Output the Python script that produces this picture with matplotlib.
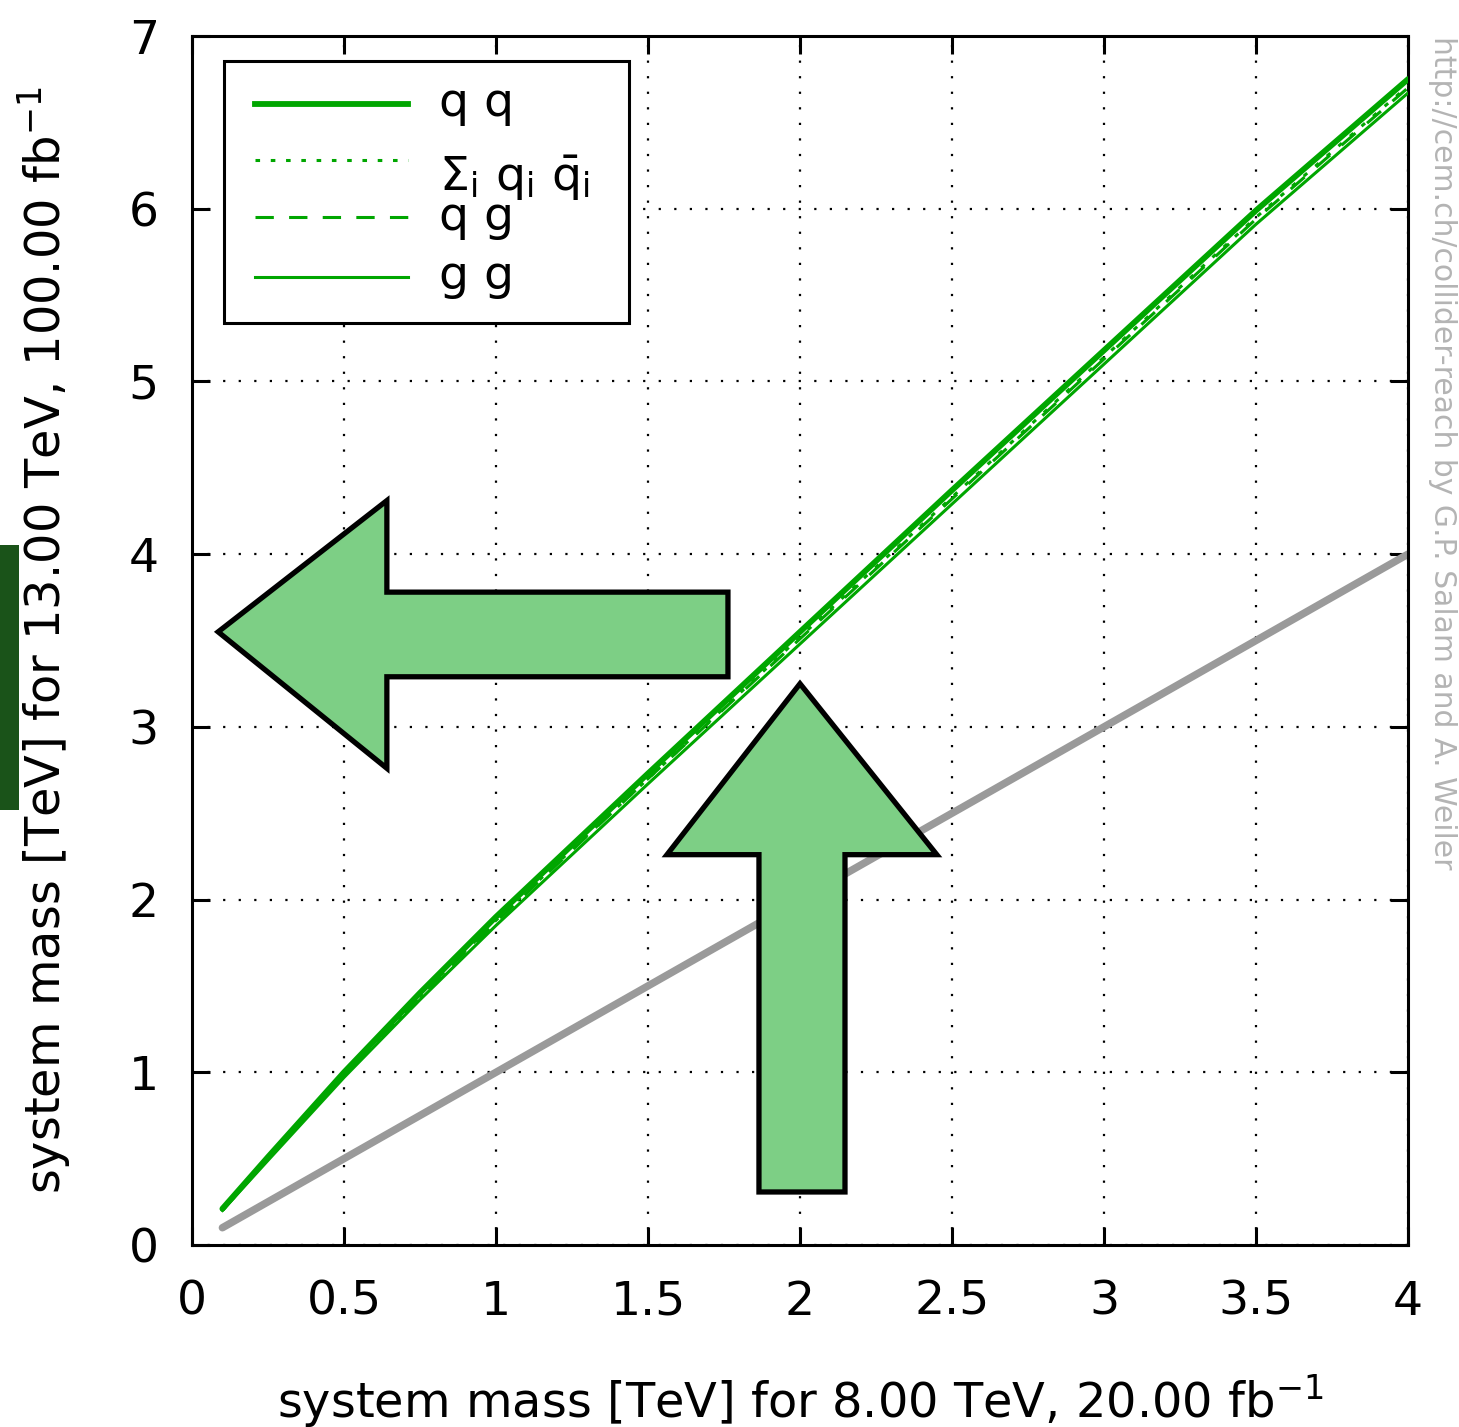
import matplotlib
matplotlib.use("Agg")
import matplotlib.pyplot as plt
import matplotlib.patches as patches
import matplotlib.lines as mlines

# system mass reach: 8 TeV (20 fb^-1) -> 13 TeV (100 fb^-1)
mass_8tev = [0.1, 0.25, 0.5, 0.75, 1.0, 1.5, 2.0, 2.5, 3.0, 3.5, 4.0]
reach_qq = [0.21, 0.51, 1.00, 1.46, 1.90, 2.73, 3.55, 4.37, 5.18, 5.99, 6.75]
reach_qqbar = [0.20, 0.50, 0.98, 1.44, 1.88, 2.70, 3.52, 4.33, 5.14, 5.95, 6.71]
reach_qg = [0.20, 0.50, 0.99, 1.44, 1.87, 2.70, 3.51, 4.32, 5.13, 5.94, 6.70]
reach_gg = [0.20, 0.49, 0.97, 1.42, 1.85, 2.67, 3.48, 4.29, 5.10, 5.91, 6.67]
diag = [0.1, 4.0]

xticks = [0, 0.5, 1, 1.5, 2, 2.5, 3, 3.5, 4]
xticklabels = ["0", "0.5", "1", "1.5", "2", "2.5", "3", "3.5", "4"]
yticks = [0, 1, 2, 3, 4, 5, 6, 7]

green = "#00a600"
arrow_fill = "#7dcf85"

plt.rcParams["font.family"] = ["DejaVu Sans"]
plt.rcParams["mathtext.fontset"] = "dejavusans"

fig = plt.figure(figsize=(14.59, 14.27), dpi=100)
ax = fig.add_axes([192 / 1459, 1 - 1245 / 1427, 1216 / 1459, 1209 / 1427])

# curves
ax.plot(diag, diag, color="#9a9a9a", lw=5.4, solid_capstyle="round", zorder=2)
ax.plot(mass_8tev, reach_gg, color=green, lw=2.2, zorder=3)
ax.plot(mass_8tev, reach_qg, color=green, lw=2.2, ls=(0, (6, 5)), zorder=3)
ax.plot(mass_8tev, reach_qqbar, color=green, lw=2.2, ls=(0, (1.5, 3.5)), zorder=3)
ax.plot(mass_8tev, reach_qq, color=green, lw=4.2, solid_capstyle="round", zorder=3)

ax.set_xlim(0, 4)
ax.set_ylim(0, 7)
ax.set_xticks(xticks)
ax.set_xticklabels(xticklabels)
ax.set_yticks(yticks)
ax.tick_params(direction="in", length=13, width=2.2, labelsize=34,
               top=True, right=True, pad=25)
ax.tick_params(axis="y", pad=24)
ax.grid(True, color="black", ls=(0, (1, 6)), lw=1.6)
for sp in ax.spines.values():
    sp.set_linewidth(2.2)

ax.set_xlabel("system mass [TeV] for 8.00 TeV, 20.00 fb$^{-1}$", fontsize=34.5, labelpad=34)
ax.set_ylabel("system mass [TeV] for 13.00 TeV, 100.00 fb$^{-1}$", fontsize=34.5, labelpad=40)

# hand-drawn legend box in the upper left
ax.add_patch(patches.Rectangle((0.026, 0.763), 0.333, 0.216, transform=ax.transAxes,
                               facecolor="white", edgecolor="black", lw=2.2, zorder=5))
entries = [
    (0.9438, 4.2, "-", "q q", 0.9438),
    (0.8974, 2.2, (0, (1.5, 3.5)), r"$\mathregular{\Sigma_i\ q_i\ \bar{q}_i}$", 0.882),
    (0.8503, 2.2, (0, (6, 5)), "q g", 0.850),
    (0.8007, 2.2, "-", "g g", 0.8007),
]
for ly, lw, ls, label, ty in entries:
    ax.add_line(mlines.Line2D([0.052, 0.178], [ly, ly], transform=ax.transAxes,
                              color=green, lw=lw, ls=ls, zorder=6))
    ax.text(0.203, ty, label, transform=ax.transAxes, fontsize=34,
            va="center", ha="left", zorder=6)

# block arrows
left_arrow = [(0.086, 3.55), (0.641, 4.31), (0.641, 3.78), (1.763, 3.78),
              (1.763, 3.29), (0.641, 3.29), (0.641, 2.76)]
up_arrow = [(2.0, 3.25), (2.45, 2.26), (2.148, 2.26), (2.148, 0.307),
            (1.865, 0.307), (1.865, 2.26), (1.5625, 2.26)]
for pts in (left_arrow, up_arrow):
    ax.add_patch(patches.Polygon(pts, closed=True, facecolor=arrow_fill,
                                 edgecolor="black", lw=3.8, joinstyle="miter", zorder=7))

# credit along the right edge
fig.text(1443 / 1459, 1 - 36 / 1427,
         "http://cem.ch/collider-reach by G.P. Salam and A. Weiler",
         rotation=-90, color="#b4b4b4", fontsize=21.5, ha="center", va="top")

# dark marker on the left edge
fig.patches.append(patches.Rectangle((0, 1 - 810 / 1427), 19 / 1459, 265 / 1427,
                                     transform=fig.transFigure, facecolor="#1a5319",
                                     edgecolor="none"))

fig.savefig("out.png", dpi=100, facecolor="white")
